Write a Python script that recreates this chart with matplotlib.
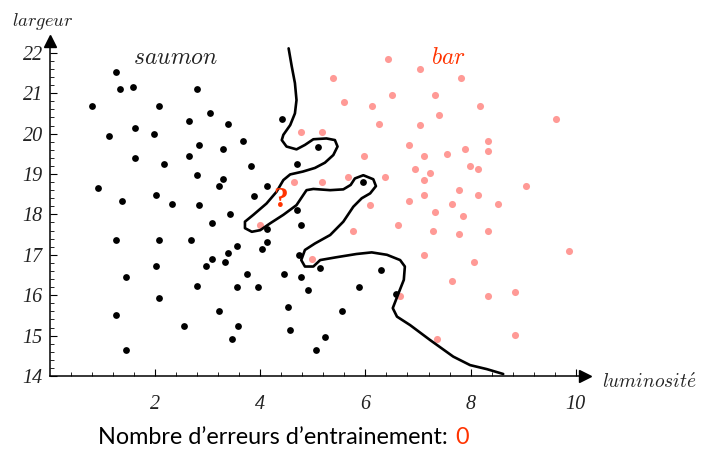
import numpy as np
import matplotlib
matplotlib.use("Agg")
import matplotlib.pyplot as plt

plt.rcParams['mathtext.fontset'] = 'cm'

# Points "saumon" (noir)
saumon_x = [1.25, 1.33, 1.58, 2.80, 0.80, 2.07, 3.05, 2.64, 3.38, 4.41,
            1.62, 1.12, 1.98, 3.67, 2.84, 3.30, 5.10, 1.62, 2.18, 2.64,
            3.83, 4.69, 2.80, 3.30, 3.21, 4.12, 0.92, 3.88, 2.02, 5.96,
            1.37, 2.32, 2.84, 3.42, 3.09, 4.69, 4.78, 4.12, 1.25, 2.07,
            2.68, 3.55, 4.12, 4.03, 3.38, 3.09, 3.34, 4.73, 2.96, 2.02,
            3.75, 4.45, 5.14, 4.78, 1.45, 2.80, 3.55, 3.95, 4.90, 5.87,
            2.07, 3.21, 4.53, 5.55, 1.25, 2.56, 3.58, 4.57, 3.46, 5.23,
            5.06, 1.45, 6.29, 6.58]
saumon_y = [21.53, 21.10, 21.15, 21.10, 20.68, 20.68, 20.52, 20.31, 20.25, 20.36,
            20.15, 19.93, 19.99, 19.82, 19.72, 19.61, 19.67, 19.40, 19.24, 19.45,
            19.19, 19.24, 18.98, 18.87, 18.71, 18.71, 18.65, 18.45, 18.49, 18.81,
            18.33, 18.27, 18.23, 18.01, 17.79, 18.12, 17.74, 17.63, 17.37, 17.37,
            17.37, 17.21, 17.32, 17.15, 17.04, 16.89, 16.83, 17.00, 16.72, 16.72,
            16.52, 16.52, 16.67, 16.46, 16.46, 16.24, 16.20, 16.20, 16.14, 16.20,
            15.93, 15.61, 15.72, 15.61, 15.50, 15.24, 15.24, 15.13, 14.92, 14.97,
            14.65, 14.65, 16.62, 16.04]

# Points "bar" (rose)
bar_x = [5.39, 5.60, 4.78, 5.18, 4.65, 5.18, 5.67, 3.99, 5.76, 4.98,
         7.11, 9.05, 7.77, 8.14, 7.11, 6.83, 7.65, 8.52, 6.09, 7.32,
         7.85, 6.62, 7.28, 7.77, 8.34, 9.87, 7.11, 8.06, 7.65, 6.66,
         8.34, 8.84, 7.36, 8.84, 6.42, 7.03, 7.81, 6.50, 7.32, 6.13,
         8.18, 7.40, 9.62, 6.25, 7.03, 6.83, 8.34, 8.34, 7.89, 7.56,
         7.11, 5.97, 6.95, 7.23, 7.98, 8.14, 6.38]
bar_y = [21.38, 20.79, 20.04, 20.04, 18.81, 18.81, 18.92, 17.74, 17.58, 16.89,
         18.85, 18.70, 18.60, 18.49, 18.49, 18.33, 18.27, 18.27, 18.23, 18.06,
         17.95, 17.74, 17.58, 17.52, 17.58, 17.10, 17.00, 16.83, 16.35, 15.98,
         15.98, 16.09, 14.91, 15.01, 21.85, 21.59, 21.38, 20.95, 20.95, 20.68,
         20.68, 20.47, 20.36, 20.25, 20.21, 19.72, 19.82, 19.56, 19.61, 19.50,
         19.45, 19.45, 19.13, 19.02, 19.19, 19.13, 18.92]

# Frontiere de decision
front_x = [4.54, 4.60, 4.66, 4.69, 4.66, 4.57, 4.44, 4.41, 4.50, 4.69,
           4.85, 5.01, 5.26, 5.42, 5.47, 5.39, 5.23, 5.04, 4.81, 4.57,
           4.44, 4.31, 4.12, 3.87, 3.71, 3.71, 3.84, 4.00, 4.19, 4.44,
           4.69, 4.88, 5.01, 5.33, 5.58, 5.72, 5.80, 5.96, 6.15, 6.20,
           6.09, 5.93, 5.77, 5.58, 5.33, 5.04, 4.85, 4.78, 4.85, 5.01,
           5.14, 5.45, 5.83, 6.12, 6.41, 6.66, 6.75, 6.73, 6.63, 6.52,
           6.60, 6.85, 7.23, 7.67, 7.99, 8.31, 8.62]
front_y = [22.11, 21.66, 21.25, 20.83, 20.50, 20.21, 19.97, 19.84, 19.68, 19.61,
           19.72, 19.86, 19.88, 19.84, 19.68, 19.47, 19.28, 19.15, 19.06, 18.99,
           18.85, 18.56, 18.27, 17.99, 17.82, 17.66, 17.57, 17.61, 17.78, 17.99,
           18.23, 18.60, 18.63, 18.60, 18.62, 18.73, 18.89, 18.97, 18.87, 18.70,
           18.52, 18.40, 18.19, 17.82, 17.49, 17.28, 17.12, 16.87, 16.71, 16.71,
           16.87, 16.94, 17.02, 17.06, 17.00, 16.87, 16.71, 16.38, 16.05, 15.68,
           15.47, 15.26, 14.89, 14.48, 14.27, 14.17, 14.05]

x_ticks = [2, 4, 6, 8, 10]
y_ticks = [14, 15, 16, 17, 18, 19, 20, 21, 22]

rouge = '#ff3300'
rose = '#ff9a96'

fig = plt.figure(figsize=(7.02, 4.51), dpi=100)
ax = fig.add_axes([0, 0, 1, 1])
ax.set_xlim(-0.947, 12.399)
ax.set_ylim(12.144, 23.307)
ax.patch.set_alpha(0)

# Axes avec fleches
x_fin = 10.17
y_fin = 22.28
for s in ['top', 'right']:
    ax.spines[s].set_visible(False)
ax.spines['left'].set_position(('data', 0))
ax.spines['bottom'].set_position(('data', 14))
ax.spines['left'].set_bounds(14, y_fin)
ax.spines['bottom'].set_bounds(0, x_fin)
ax.spines['left'].set_linewidth(1.1)
ax.spines['bottom'].set_linewidth(1.1)
ax.plot([x_fin], [14], marker='>', color='black', markersize=8, clip_on=False)
ax.plot([0], [y_fin], marker='^', color='black', markersize=8, clip_on=False)

ax.set_xticks(x_ticks)
ax.set_xticks(np.arange(0.4, 10.01, 0.4), minor=True)
ax.set_yticks(y_ticks)
ax.set_yticks(np.arange(14.2, 22.01, 0.2), minor=True)
ax.tick_params(which='major', direction='in', length=5, width=0.8)
ax.tick_params(which='minor', direction='in', length=3, width=0.6)
ax.tick_params(axis='x', pad=14)
ax.tick_params(axis='y', pad=5)
for lab in ax.get_xticklabels() + ax.get_yticklabels():
    lab.set_family('Liberation Serif')
    lab.set_style('italic')
    lab.set_fontsize(14.5)
    lab.set_color('#222222')

# Donnees
ax.scatter(saumon_x, saumon_y, s=24, color='black', zorder=3, linewidths=0)
ax.scatter(bar_x, bar_y, s=26, color=rose, zorder=3, linewidths=0)
ax.plot(front_x, front_y, color='black', linewidth=1.9,
        solid_joinstyle='round', solid_capstyle='round', zorder=4)

# Textes
ax.text(4.38, 18.36, '?', color=rouge, fontsize=21, fontweight='bold',
        family='Liberation Serif', ha='center', va='center', zorder=5)
ax.text(2.38, 21.9, r'$\mathit{saumon}$', fontsize=17, ha='center', va='center',
        color='#222222')
ax.text(7.57, 21.9, r'$\mathit{bar}$', fontsize=17, ha='center', va='center',
        color=rouge)
fig.text(11.7 / 702, 1 - 21.7 / 451, r'$\mathit{largeur}$', fontsize=13.3,
         ha='left', va='center', color='#222222')
fig.text(602 / 702, 1 - 382.7 / 451, r'$\mathit{luminosit\acute{e}}$', fontsize=14,
         ha='left', va='center', color='#222222')

fig.text(98 / 702, 1 - 438 / 451, u"Nombre d\u2019erreurs d\u2019entrainement:",
         family='Lato', fontsize=16.8, ha='left', va='center', color='black')
fig.text(461.7 / 702, 1 - 438 / 451, '0', family='Lato', fontsize=16.8,
         ha='center', va='center', color=rouge)

fig.savefig('out.png', dpi=100)
